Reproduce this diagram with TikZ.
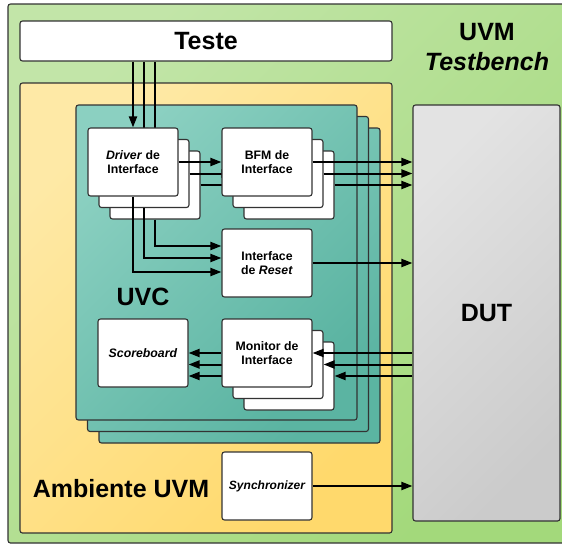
\documentclass[tikz,border=0pt]{standalone}
\usepackage{fontspec}
\setmainfont{Liberation Sans}
\usetikzlibrary{arrows.meta,calc}
\definecolor{tbgreenA}{HTML}{C2E5A8}
\definecolor{tbgreenB}{HTML}{A3D97B}
\definecolor{ambyelA}{HTML}{FEE9A6}
\definecolor{ambyelB}{HTML}{FFD96C}
\definecolor{uvctealA}{HTML}{8BD0C1}
\definecolor{uvctealB}{HTML}{5BB4A2}
\definecolor{dutgrayA}{HTML}{E3E3E3}
\definecolor{dutgrayB}{HTML}{CBCBCB}
\definecolor{edgegray}{HTML}{333333}
\pgfdeclarelayer{bg}
\pgfdeclarelayer{back}
\pgfdeclarelayer{wires}
\pgfsetlayers{bg,back,wires,main}

\begin{document}
\begin{tikzpicture}[x=1pt,y=-1pt,>={Triangle[length=11pt,width=8pt]},
    frame/.style={draw=edgegray,line width=1.1pt,rounded corners=2.5pt,inner sep=0pt},
    box/.style={frame,fill=white,minimum width=90pt,minimum height=68pt,align=center,
        font=\fontsize{12.3}{14.5}\selectfont\bfseries},
    uvcbox/.style={frame,top color=uvctealA,bottom color=uvctealB,shading angle=45,
        minimum width=281pt,minimum height=315pt},
    big/.style={font=\fontsize{25}{30}\selectfont\bfseries},
    wire/.style={line width=2pt}]
    \useasboundingbox (0,0) rectangle (562,544);

    % Containers
    \begin{pgfonlayer}{bg}
    \node[frame,top color=tbgreenA,bottom color=tbgreenB,shading angle=45,
        minimum width=562pt,minimum height=539pt] (tb) at (289,273.5) {};
    \node[frame,top color=ambyelA,bottom color=ambyelB,shading angle=45,
        minimum width=372pt,minimum height=450pt] (amb) at (206,308) {};
    \node[uvcbox] (uvc3) at (239.5,285.5) {};
    \node[uvcbox] (uvc2) at (228,274) {};
    \node[uvcbox] (uvc) at (216.5,262.5) {};
    \end{pgfonlayer}

    \node[big,align=center] (tblabel) at (487,47) {UVM\\\textit{Testbench}};
    \node[big] (uvclabel) at (143,297) {UVC};
    \node[big] (amblabel) at (121,489) {Ambiente UVM};

    \node[frame,fill=white,minimum width=372pt,minimum height=40pt,big] (teste) at (206,41) {Teste};
    \node[frame,top color=dutgrayA,bottom color=dutgrayB,shading angle=45,
        minimum width=147pt,minimum height=416pt,big] (dut) at (486.5,313) {DUT};

    % Stacked copies
    \begin{pgfonlayer}{back}
    \node[box] (drv3) at (155,185) {};
    \node[box] (drv2) at (144,173.5) {};
    \node[box] (bfm3) at (289,185) {};
    \node[box] (bfm2) at (278,173.5) {};
    \node[box] (mon3) at (289,376) {};
    \node[box] (mon2) at (278,364.5) {};
    \end{pgfonlayer}

    % Blocks
    \node[box] (drv) at (133,162) {\textit{Driver} de\\Interface};
    \node[box] (bfm) at (267,162) {BFM de\\Interface};
    \node[box] (reset) at (267,263) {Interface\\de \textit{Reset}};
    \node[box] (mon) at (267,353) {Monitor de\\Interface};
    \node[box] (score) at (143,353) {\textit{Scoreboard}};
    \node[box,font=\fontsize{12}{14}\selectfont\bfseries\itshape] (sync) at (267,486) {Synchronizer};

    % Connections
    \begin{pgfonlayer}{wires}
    \foreach \n in {drv,drv2,drv3}
        \draw[wire,->] (teste.south -| \n.north) -- (\n.north);
    \draw[wire,->] (drv.east) -- (bfm.west);
    \draw[wire,->] (drv2.east) -- (bfm2.west);
    \draw[wire,->] (drv3.east) -- (bfm3.west);
    \foreach \n in {bfm,bfm2,bfm3}
        \draw[wire,->] (\n.east) -- (\n.east -| dut.west);
    \draw[wire,->] (drv.south) |- ($(reset.west)+(0,9)$);
    \draw[wire,->] (drv2.south) |- ($(reset.west)+(0,-5)$);
    \draw[wire,->] (drv3.south) |- ($(reset.west)+(0,-17)$);
    \draw[wire,->] (reset.east) -- (reset.east -| dut.west);
    \foreach \n in {mon,mon2,mon3}{
        \draw[wire,->] (\n.east -| dut.west) -- (\n.east);
        \draw[wire,->] (\n.west) -- (\n.west -| score.east);
    }
    \draw[wire,->] (sync.east) -- (sync.east -| dut.west);
    \end{pgfonlayer}
\end{tikzpicture}
\end{document}
